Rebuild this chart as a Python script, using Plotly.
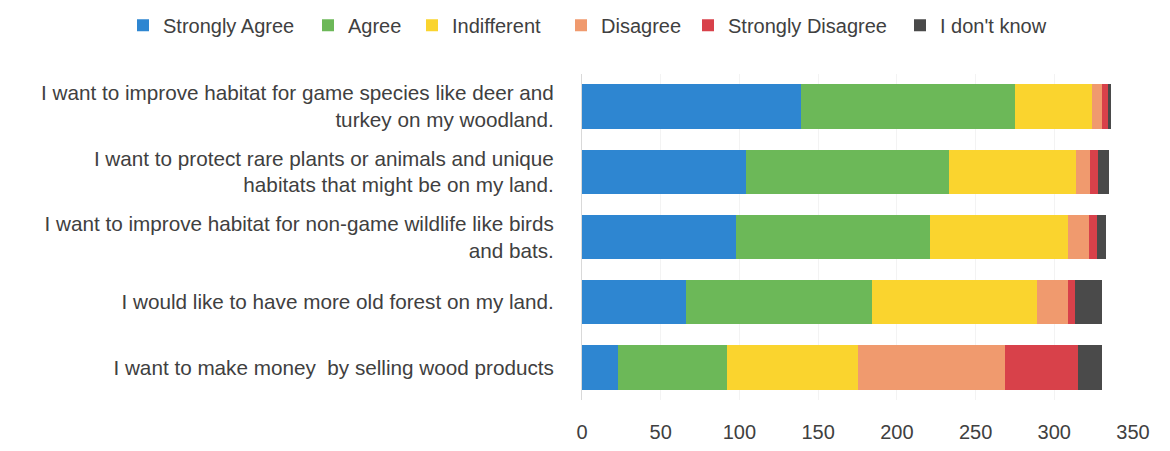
import plotly.graph_objects as go

statements = [
    "I want to improve habitat for game species like deer and<br>turkey on my woodland.",
    "I want to protect rare plants or animals and unique<br>habitats that might be on my land.",
    "I want to improve habitat for non-game wildlife like birds<br>and bats.",
    "I would like to have more old forest on my land.",
    "I want to make money  by selling wood products",
]

strongly_agree = [139, 104, 98, 66, 23]
agree = [136, 129, 123, 118, 69]
indifferent = [49, 81, 88, 105, 83]
disagree = [6, 9, 13, 20, 94]
strongly_disagree = [4, 5, 5, 4, 46]
dont_know = [2, 7, 6, 17, 15]

series = [
    ("Strongly Agree", strongly_agree, "#2e86d1"),
    ("Agree", agree, "#6cb858"),
    ("Indifferent", indifferent, "#fad42e"),
    ("Disagree", disagree, "#f09a6e"),
    ("Strongly Disagree", strongly_disagree, "#d8414a"),
    ("I don't know", dont_know, "#4a4a4a"),
]

# each series gets its own one-entry legend so the key stays on a single row
legend_left = [123, 308, 412, 561, 688, 900]
legend_ids = ["legend", "legend2", "legend3", "legend4", "legend5", "legend6"]

fig = go.Figure()
for (name, vals, color), lid in zip(series, legend_ids):
    fig.add_trace(go.Bar(
        y=statements, x=vals, name=name, orientation="h",
        marker=dict(color=color, line=dict(width=0)),
        legend=lid, showlegend=True,
    ))

legend_style = dict(
    orientation="h", xref="container", yref="container",
    xanchor="left", y=0.987, yanchor="top",
    font=dict(size=20, color="#404040"),
    bgcolor="rgba(0,0,0,0)",
)
legends = {
    lid: dict(legend_style, x=px / 1170)
    for lid, px in zip(legend_ids, legend_left)
}

fig.update_layout(
    barmode="stack",
    bargap=0.32,
    showlegend=True,
    width=1170, height=451,
    margin=dict(l=582, r=37, t=74, b=51, autoexpand=False),
    paper_bgcolor="white", plot_bgcolor="white",
    font=dict(family="Liberation Sans, Arial, sans-serif", size=20, color="#404040"),
    xaxis=dict(
        range=[0, 350], dtick=50, showgrid=True, gridcolor="#f3f3f3",
        zeroline=False, showline=False, ticklabelstandoff=18,
        tickfont=dict(size=20, color="#404040"),
    ),
    yaxis=dict(
        categoryorder="array", categoryarray=statements, autorange="reversed",
        showline=True, linecolor="#d9d9d9", linewidth=1,
        ticks="", ticklabelstandoff=23,
        tickfont=dict(size=20.7, color="#404040"),
    ),
    **legends,
)

fig.write_html("out.html")
